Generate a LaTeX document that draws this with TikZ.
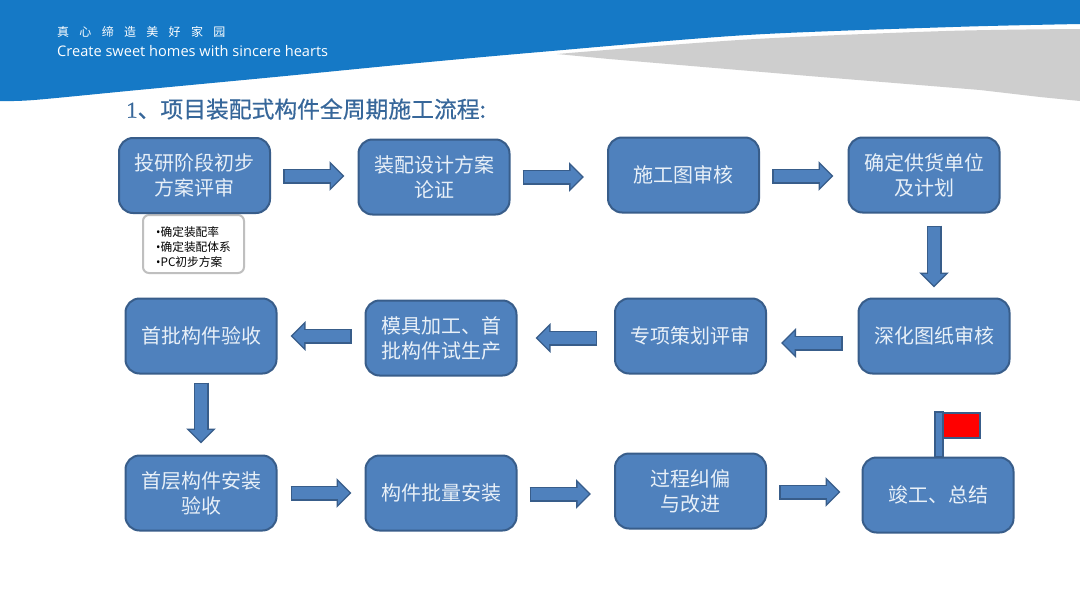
\documentclass[tikz,border=0pt]{standalone}
\usepackage{fontspec}
\setmainfont{Open Sans}
\newfontfamily\cjk{Noto Sans CJK SC}
\newfontfamily\cjkbold[FakeBold=0.5]{Noto Sans CJK SC}
\newfontfamily\titlenum[FakeBold=0.5]{Liberation Serif}
\definecolor{headerblue}{HTML}{1579C6}
\definecolor{headergray}{HTML}{CECECE}
\definecolor{titleblue}{HTML}{37679A}
\definecolor{stagefill}{HTML}{4F81BD}
\definecolor{stageline}{HTML}{385D8A}
\definecolor{stagetext}{HTML}{E8F0F8}
\usetikzlibrary{arrows.meta}
\tikzset{
  stage/.style={draw=stageline,fill=stagefill,line width=2pt,rounded corners=14pt,
    minimum width=151pt,minimum height=75pt,inner sep=0pt,align=center,text=stagetext,
    font=\cjk\fontsize{20}{25}\selectfont},
  flowarrow/.style 2 args={stagefill,line width=12pt,shorten <=#1+1.5pt,shorten >=#2+2.2pt,
    -{Triangle[length=11.3pt,width=21.9pt]},
    preaction={draw=stageline,line width=15pt,shorten <=#1,shorten >=#2,
      -{Triangle[length=15pt,width=29pt]}}},
}
\begin{document}
\begin{tikzpicture}[x=1pt,y=-1pt]
  \useasboundingbox (0,0) rectangle (1080,608);
  \fill[white] (0,0) rectangle (1080,608);
  % Header bands
  \fill[headergray] (557,54) -- plot[smooth] coordinates {(557,54) (747,39.5) (946,31) (1080,29)}
    -- (1080,101) -- (1040,97) -- (980,90) -- (815,76.5) -- (609,59) -- cycle;
  \fill[headerblue] (0,0) -- (1080,0) -- plot[smooth] coordinates {(1080,24) (953,27) (747,35) (540,52) (413,63.5) (275,77) (138,90) (34,100) (0,101)} -- cycle;
  \node[anchor=west,inner sep=0pt,text=white,font=\cjk\fontsize{12}{14}\selectfont] (motto) at (57,32) {\spaceskip=10.3pt 真 心 缔 造 美 好 家 园};
  \node[anchor=west,inner sep=0pt,text=white,font=\fontsize{14.6}{17}\selectfont] (slogan) at (57,51) {Create sweet homes with sincere hearts};
  \node[anchor=west,inner sep=0pt,text=titleblue,font=\cjkbold\fontsize{22.8}{26}\selectfont] (title) at (126,109) {{\titlenum 1}、项目装配式构件全周期施工流程:};
  % Note under the first stage
  \node[draw=black!25,fill=white,line width=2pt,rounded corners=6pt,minimum width=101pt,minimum height=58pt,
    inner sep=0pt,align=left,font=\cjk\fontsize{11.7}{15}\selectfont] (notes) at (193.5,244) {\rule{0pt}{16pt}{\rmfamily•}确定装配率\\{\rmfamily•}确定装配体系\\{\rmfamily•}PC初步方案};
  % Stages
  \node[stage] (survey) at (194.5,175.5) {投研阶段初步\\方案评审};
  \node[stage] (design) at (434,177) {装配设计方案\\论证};
  \node[stage] (drawings) at (683.5,175) {施工图审核};
  \node[stage] (supplier) at (924,175) {确定供货单位\\及计划};
  \node[stage] (detail) at (934,336) {深化图纸审核};
  \node[stage] (planning) at (690.5,336) {专项策划评审};
  \node[stage] (mould) at (441,338) {模具加工、首\\批构件试生产};
  \node[stage] (firstbatch) at (201,336) {首批构件验收};
  \node[stage] (firstfloor) at (201,493) {首层构件安装\\验收};
  \node[stage] (install) at (441,493) {构件批量安装};
  \node[stage] (correct) at (690.5,491) {过程纠偏\\与改进};
  \node[stage] (finish) at (938,495) {竣工、总结};
  % Flag on the last stage
  \draw[draw=stageline,fill=stagefill,line width=1.5pt] (935,412) rectangle (943,457);
  \draw[draw=stageline,fill=red,line width=2pt] (943,412.5) rectangle (980,438);
  % Arrows
  \draw[flowarrow={12pt}{13pt}] ([yshift=-.5pt]survey.east) -- ([yshift=1pt]design.west);
  \draw[flowarrow={12pt}{23pt}] (design.east) -- ([yshift=-2pt]drawings.west);
  \draw[flowarrow={12pt}{14pt}] ([yshift=-1pt]drawings.east) -- ([yshift=-1pt]supplier.west);
  \draw[flowarrow={12pt}{10pt}] ([xshift=10pt]supplier.south) -- (detail.north);
  \draw[flowarrow={15pt}{14pt}] ([yshift=-7pt]detail.west) -- ([yshift=-7pt]planning.east);
  \draw[flowarrow={17pt}{18pt}] ([yshift=-2pt]planning.west) -- (mould.east);
  \draw[flowarrow={13pt}{13pt}] ([yshift=2pt]mould.west) -- (firstbatch.east);
  \draw[flowarrow={8pt}{11pt}] (firstbatch.south) -- (firstfloor.north);
  \draw[flowarrow={13pt}{13pt}] (firstfloor.east) -- (install.west);
  \draw[flowarrow={12pt}{23pt}] ([yshift=-1pt]install.east) -- ([yshift=-3pt]correct.west);
  \draw[flowarrow={12pt}{21pt}] ([yshift=-1pt]correct.east) -- ([yshift=3pt]finish.west);
\end{tikzpicture}
\end{document}
